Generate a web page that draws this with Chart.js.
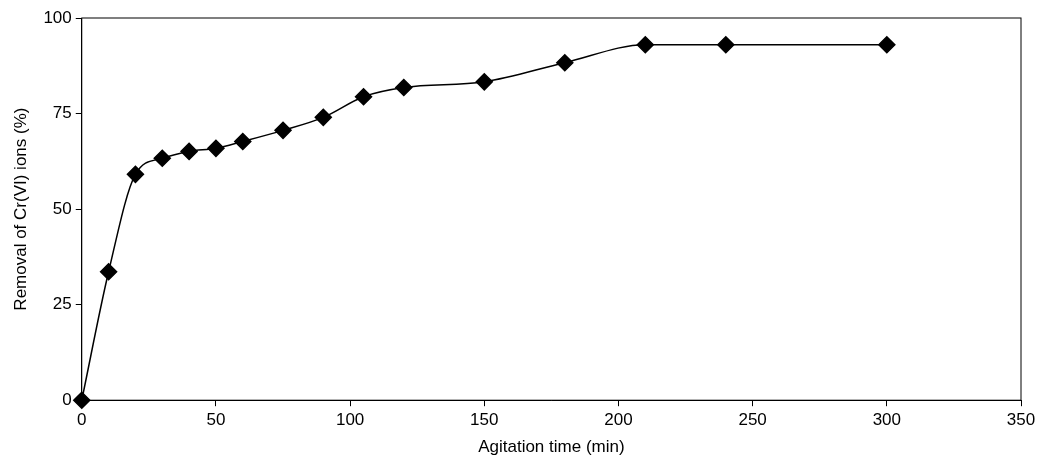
<!DOCTYPE html>
<html><head><script src="https://cdn.jsdelivr.net/npm/chart.js@4"></script>
<style>body{margin:0;background:#fff}#w{width:1045px;height:466px}</style></head>
<body><div id="w"><canvas id="c"></canvas></div>
<script>
const times=[0,10,20,30,40,50,60,75,90,105,120,150,180,210,240,300];
const removal=[0,33.6,59.1,63.3,65.1,65.9,67.7,70.6,74.0,79.4,81.8,83.3,88.3,93.0,93.0,93.0];
const xTicks=[0,50,100,150,200,250,300,350];
const yTicks=[0,25,50,75,100];
const frame={id:'frame',afterDraw(ch){const a=ch.chartArea,x=ch.ctx;x.save();x.strokeStyle='#000';x.lineWidth=1;x.strokeRect(a.left,a.top,a.right-a.left,a.bottom-a.top);x.restore();}};
Chart.defaults.font.family='"Liberation Sans",Arial,sans-serif';
Chart.defaults.font.size=17;Chart.defaults.color='#000';
new Chart(document.getElementById('c'),{type:'line',
data:{datasets:[{data:times.map((t,i)=>({x:t,y:removal[i]})),borderColor:'#000',borderWidth:1.5,backgroundColor:'#000',pointStyle:'rectRot',pointRadius:8,pointHoverRadius:8,cubicInterpolationMode:'monotone',clip:false}]},
options:{responsive:true,maintainAspectRatio:false,animation:false,layout:{padding:{top:18,right:24,left:7,bottom:4}},
plugins:{legend:{display:false},tooltip:{enabled:false}},
scales:{x:{type:'linear',min:0,max:350,afterBuildTicks:s=>{s.ticks=xTicks.map(v=>({value:v}))},grid:{drawOnChartArea:false,color:'#000',tickLength:6},border:{color:'#000'},ticks:{padding:4},title:{display:true,text:'Agitation time (min)',padding:{top:3}}},
y:{min:0,max:100,afterBuildTicks:s=>{s.ticks=yTicks.map(v=>({value:v}))},grid:{drawOnChartArea:false,color:'#000',tickLength:6},border:{color:'#000'},ticks:{padding:4},title:{display:true,text:'Removal of Cr(VI) ions (%)',padding:{bottom:8}}}}},
plugins:[frame]});
</script></body></html>
